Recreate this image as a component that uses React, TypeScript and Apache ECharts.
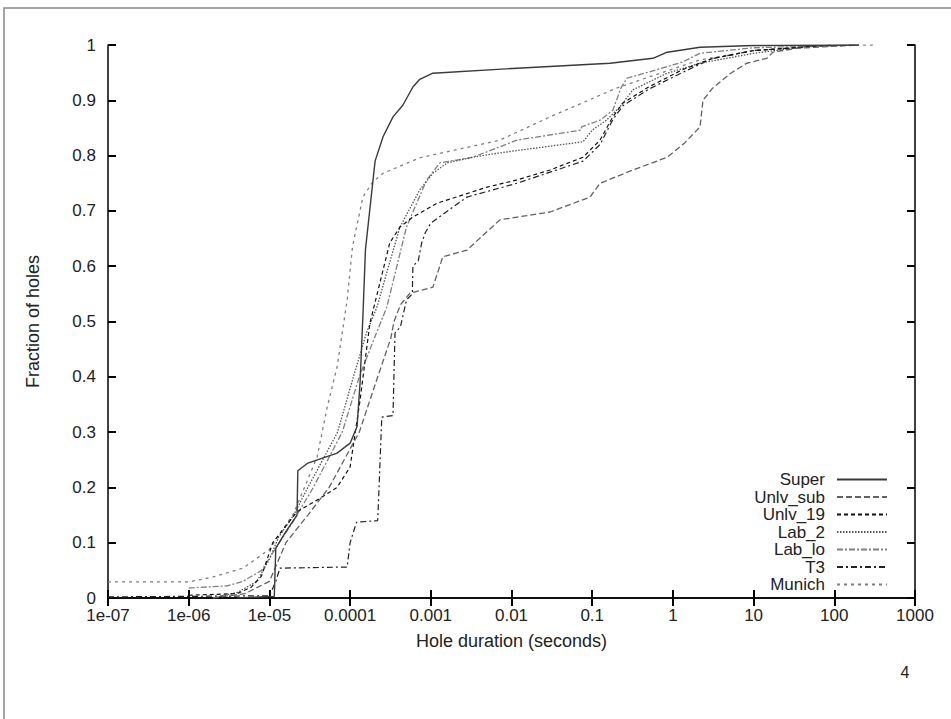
import React, { useEffect, useRef } from "react";
import * as echarts from "echarts";

const X_TICK_LABELS = ["1e-07", "1e-06", "1e-05", "0.0001", "0.001", "0.01", "0.1", "1", "10", "100", "1000"];
const X_MIN_EXP = -7;
const X_MAX_EXP = 3;

const SERIES_NAMES = ["Super", "Unlv_sub", "Unlv_19", "Lab_2", "Lab_lo", "T3", "Munich"];

const SUPER: [number, number][] = [
  [4e-6, 0.0], [1.15e-5, 0.003], [1.2e-5, 0.09], [1.6e-5, 0.12], [2.2e-5, 0.15], [2.25e-5, 0.23],
  [3.0e-5, 0.244], [6.9e-5, 0.262], [1.0e-4, 0.28], [1.22e-4, 0.31], [1.33e-4, 0.39], [1.45e-4, 0.52],
  [1.55e-4, 0.63], [2.04e-4, 0.79], [2.56e-4, 0.834], [3.4e-4, 0.87], [4.5e-4, 0.891], [6.0e-4, 0.924],
  [7.3e-4, 0.938], [1.06e-3, 0.949], [0.0117, 0.958], [0.166, 0.967], [0.566, 0.976], [0.85, 0.987],
  [2.17, 0.996], [10, 0.999], [200, 1.0],
];

const UNLV_SUB: [number, number][] = [
  [2e-6, 0.0], [5e-6, 0.008], [1e-5, 0.03], [1.6e-5, 0.1], [3e-5, 0.15], [5.5e-5, 0.2], [1.3e-4, 0.3],
  [2.2e-4, 0.4], [3.2e-4, 0.47], [3.5e-4, 0.5], [4.2e-4, 0.53], [5.5e-4, 0.551], [1.06e-3, 0.562],
  [1.41e-3, 0.617], [2.8e-3, 0.629], [7.2e-3, 0.684], [0.03, 0.698], [0.094, 0.725], [0.125, 0.75],
  [0.32, 0.774], [0.85, 0.797], [1.4, 0.823], [2.17, 0.852], [2.36, 0.9], [3.1, 0.922], [5.2, 0.949],
  [8.2, 0.967], [14.6, 0.976], [17.3, 0.987], [34, 0.994], [200, 1.0],
];

const UNLV_19: [number, number][] = [
  [1e-6, 0.005], [4e-6, 0.008], [6e-6, 0.02], [8e-6, 0.04], [1.1e-5, 0.1], [2.2e-5, 0.156],
  [3.9e-5, 0.177], [6.9e-5, 0.2], [1.0e-4, 0.237], [1.33e-4, 0.358], [1.76e-4, 0.497], [3.1e-4, 0.642],
  [4.15e-4, 0.671], [6e-4, 0.689], [7.3e-4, 0.696], [1.2e-3, 0.714], [5e-3, 0.743], [0.0117, 0.756],
  [0.03, 0.774], [0.077, 0.797], [0.125, 0.828], [0.18, 0.87], [0.24, 0.895], [0.5, 0.924],
  [1.3, 0.955], [3, 0.975], [10, 0.99], [100, 1.0],
];

const LAB_2: [number, number][] = [
  [2e-6, 0.0], [4e-6, 0.01], [7e-6, 0.03], [1.0e-5, 0.07], [1.3e-5, 0.11], [2e-5, 0.15], [3.0e-5, 0.2],
  [7e-5, 0.3], [1.1e-4, 0.4], [1.6e-4, 0.48], [2.15e-4, 0.526], [3e-4, 0.6], [4.15e-4, 0.671],
  [7.3e-4, 0.738], [1.06e-3, 0.768], [1.6e-3, 0.787], [3.3e-3, 0.797], [7.2e-3, 0.805], [0.077, 0.825],
  [0.1, 0.846], [0.15, 0.864], [0.22, 0.888], [0.32, 0.919], [0.85, 0.949], [2.17, 0.967], [10, 0.985],
  [50, 0.998], [200, 1.0],
];

const LAB_LO: [number, number][] = [
  [1e-6, 0.018], [3e-6, 0.022], [4.7e-6, 0.03], [8e-6, 0.05], [1.2e-5, 0.09], [2e-5, 0.14], [3.5e-5, 0.2],
  [8e-5, 0.3], [1.3e-4, 0.4], [2e-4, 0.47], [2.85e-4, 0.526], [5e-4, 0.671], [8.9e-4, 0.756],
  [1.3e-3, 0.787], [3.3e-3, 0.797], [7.2e-3, 0.816], [0.0117, 0.828], [0.072, 0.846], [0.074, 0.852],
  [0.125, 0.864], [0.18, 0.882], [0.23, 0.924], [0.27, 0.94], [0.5, 0.951], [1.3, 0.969], [2.17, 0.985],
  [10, 0.995], [200, 1.0],
];

const T3: [number, number][] = [
  [1e-7, 0.002], [1e-5, 0.004], [1.2e-5, 0.03], [1.35e-5, 0.054], [9.2e-5, 0.056], [1.0e-4, 0.1],
  [1.2e-4, 0.137], [2.2e-4, 0.14], [2.47e-4, 0.327], [3.4e-4, 0.33], [3.6e-4, 0.479], [4.2e-4, 0.49],
  [5e-4, 0.539], [5.9e-4, 0.55], [6.0e-4, 0.6], [7e-4, 0.61], [7.7e-4, 0.642], [8.5e-4, 0.66],
  [1.0e-3, 0.678], [2.8e-3, 0.725], [0.0117, 0.75], [0.03, 0.77], [0.077, 0.79], [0.125, 0.82],
  [0.18, 0.865], [0.24, 0.89], [0.5, 0.92], [1.3, 0.95], [3, 0.975], [10, 0.99], [100, 1.0],
];

const MUNICH: [number, number][] = [
  [1e-7, 0.029], [1e-6, 0.029], [2e-6, 0.038], [4.7e-6, 0.054], [1.0e-5, 0.088], [2.0e-5, 0.153],
  [3.9e-5, 0.255], [5.2e-5, 0.345], [6.9e-5, 0.418], [9.2e-5, 0.539], [1.07e-4, 0.635], [1.44e-4, 0.725],
  [1.9e-4, 0.752], [2.56e-4, 0.768], [7.3e-4, 0.796], [7.2e-3, 0.828], [0.03, 0.87], [0.2, 0.922],
  [0.5, 0.942], [2.17, 0.973], [10, 0.99], [100, 0.999], [300, 1.0],
];

const SERIES_DATA = [SUPER, UNLV_SUB, UNLV_19, LAB_2, LAB_LO, T3, MUNICH];

const SERIES_STYLES = [
  { color: "#3a3a3a", type: "solid" as any, width: 1.4 },
  { color: "#626262", type: [6, 3], width: 1.3 },
  { color: "#111111", type: [4, 3], width: 1.2 },
  { color: "#555555", type: [1.5, 1.5], width: 1.3 },
  { color: "#808080", type: [6, 2, 2, 2], width: 1.3 },
  { color: "#222222", type: [6, 3, 2, 3], width: 1.2 },
  { color: "#808080", type: [3, 4], width: 1.3 },
];

const FONT = "Liberation Sans, Arial, sans-serif";

function xLabel(v: number): string {
  const idx = Math.round(Math.log10(v)) - X_MIN_EXP;
  return X_TICK_LABELS[idx] ?? "";
}

export default function App() {
  const ref = useRef<HTMLDivElement>(null);

  useEffect(() => {
    if (!ref.current) return;
    const chart = echarts.init(ref.current, null, { renderer: "svg" });

    const axisLine = { show: true, lineStyle: { color: "#000", width: 1.5 } };
    const axisTick = { show: true, inside: true, length: 8, lineStyle: { color: "#000", width: 2 } };

    const option: any = {
      animation: false,
      backgroundColor: "#fff",
      textStyle: { fontFamily: FONT },
      grid: { left: 108, right: 36, top: 45, bottom: 121, containLabel: false },
      legend: {
        show: true,
        orient: "vertical",
        right: 58,
        top: 466,
        align: "right",
        itemWidth: 50,
        itemHeight: 10,
        itemGap: 0.5,
        data: SERIES_NAMES,
        itemStyle: { opacity: 0 },
        textStyle: { fontFamily: FONT, fontSize: 17, color: "#222", lineHeight: 17, padding: [0, 7, 0, 0] },
        selectedMode: false,
      },
      xAxis: [
        {
          type: "log",
          logBase: 10,
          min: Math.pow(10, X_MIN_EXP),
          max: Math.pow(10, X_MAX_EXP),
          interval: 1,
          splitNumber: 10,
          position: "bottom",
          name: "Hole duration (seconds)",
          nameLocation: "middle",
          nameGap: 34,
          nameTextStyle: { fontFamily: FONT, fontSize: 18, color: "#222" },
          axisLine,
          axisTick,
          minorTick: { show: false },
          splitLine: { show: false },
          axisLabel: { formatter: xLabel, fontFamily: FONT, fontSize: 17, color: "#222", margin: 9 },
        },
        {
          type: "log",
          logBase: 10,
          min: Math.pow(10, X_MIN_EXP),
          max: Math.pow(10, X_MAX_EXP),
          interval: 1,
          splitNumber: 10,
          position: "top",
          axisLine,
          axisTick,
          splitLine: { show: false },
          axisLabel: { show: false },
        },
      ],
      yAxis: [
        {
          type: "value",
          min: 0,
          max: 1,
          interval: 0.1,
          position: "left",
          name: "Fraction of holes",
          nameLocation: "middle",
          nameGap: 66,
          nameRotate: 90,
          nameTextStyle: { fontFamily: FONT, fontSize: 18, color: "#222" },
          axisLine,
          axisTick,
          splitLine: { show: false },
          axisLabel: { fontFamily: FONT, fontSize: 17, color: "#222", margin: 12 },
        },
        {
          type: "value",
          min: 0,
          max: 1,
          interval: 0.1,
          position: "right",
          axisLine,
          axisTick,
          splitLine: { show: false },
          axisLabel: { show: false },
        },
      ],
      series: SERIES_NAMES.map((name, i) => ({
        name,
        type: "line",
        xAxisIndex: 0,
        yAxisIndex: 0,
        data: SERIES_DATA[i],
        symbol: "none",
        showSymbol: false,
        smooth: false,
        itemStyle: { color: SERIES_STYLES[i].color },
        lineStyle: {
          color: SERIES_STYLES[i].color,
          type: SERIES_STYLES[i].type,
          width: SERIES_STYLES[i].width,
        },
        z: 10 - i,
      })),
      graphic: [
        {
          type: "polyline",
          shape: { points: [[4, 719], [4, 8], [951, 8]] },
          style: { stroke: "#888", lineWidth: 1.5, fill: null },
          silent: true,
        },
        {
          type: "text",
          x: 905,
          y: 672,
          style: { text: "4", fontFamily: FONT, fontSize: 16, fill: "#222", textAlign: "center", textVerticalAlign: "middle" },
          silent: true,
        },
      ],
    };

    chart.setOption(option);
    return () => chart.dispose();
  }, []);

  return (
    <div
      ref={ref}
      style={{ position: "fixed", left: 0, top: 0, width: 951, height: 719, background: "#fff" }}
    />
  );
}
